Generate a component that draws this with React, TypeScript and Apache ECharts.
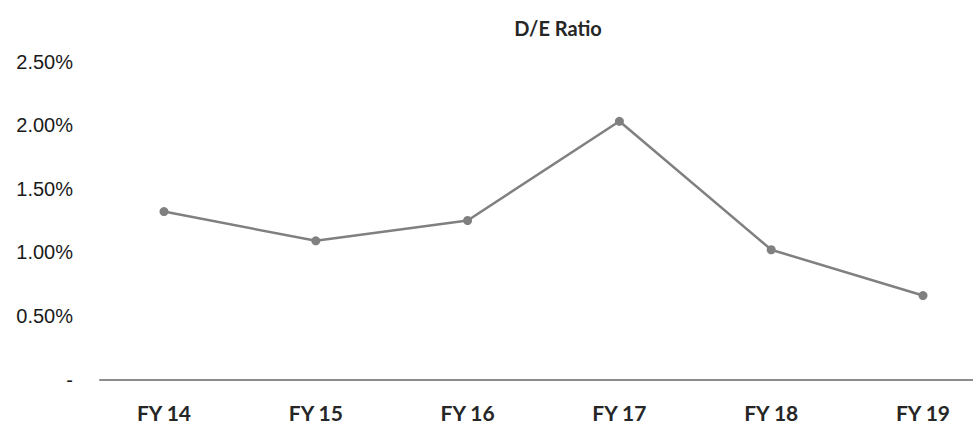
import React, { useEffect, useRef } from "react";
import * as echarts from "echarts";

const title = "D/E Ratio";
const categories = ["FY 14", "FY 15", "FY 16", "FY 17", "FY 18", "FY 19"];
const deRatio = [1.32, 1.09, 1.25, 2.03, 1.02, 0.66];
const yMin = 0;
const yMax = 2.5;
const yStep = 0.5;

const labelFont = "'Liberation Sans', Arial, sans-serif";
const titleFont = "Lato, 'Open Sans', sans-serif";

export default function App() {
  const ref = useRef<HTMLDivElement>(null);
  useEffect(() => {
    if (!ref.current) return;
    const chart = echarts.init(ref.current, undefined, { renderer: "svg" });
    chart.setOption({
      animation: false,
      backgroundColor: "#ffffff",
      title: {
        text: title,
        left: 553,
        top: 13,
        textAlign: "center",
        textStyle: { fontFamily: titleFont, fontWeight: "bold", fontSize: 20, color: "#262626" },
      },
      grid: [
        { left: 100, right: 0, top: 61.5, bottom: 45.5 },
        { left: 164, right: 50, top: 61.5, bottom: 45.5 },
      ],
      xAxis: [
        {
          gridIndex: 0,
          type: "category",
          data: categories,
          axisLine: { show: true, lineStyle: { color: "#8c8c8c", width: 2 } },
          axisTick: { show: false },
          axisLabel: { show: false },
          splitLine: { show: false },
        },
        {
          gridIndex: 1,
          type: "category",
          data: categories,
          boundaryGap: false,
          axisLine: { show: false },
          axisTick: { show: false },
          axisLabel: {
            margin: 22,
            fontFamily: titleFont,
            fontWeight: "bold",
            fontSize: 21,
            color: "#262626",
          },
        },
      ],
      yAxis: [
        {
          gridIndex: 0,
          type: "value",
          min: yMin,
          max: yMax,
          interval: yStep,
          axisLine: { show: false },
          axisTick: { show: false },
          splitLine: { show: false },
          axisLabel: {
            margin: 27,
            fontFamily: labelFont,
            fontSize: 20,
            color: "#1a1a1a",
            formatter: (v: number) => (v === 0 ? "-" : v.toFixed(2) + "%"),
          },
        },
        {
          gridIndex: 1,
          type: "value",
          min: yMin,
          max: yMax,
          interval: yStep,
          show: false,
          splitLine: { show: false },
        },
      ],
      series: [
        {
          type: "line",
          name: title,
          xAxisIndex: 1,
          yAxisIndex: 1,
          data: deRatio,
          symbol: "circle",
          symbolSize: 9,
          itemStyle: { color: "#808080" },
          lineStyle: { color: "#808080", width: 2.5 },
        },
      ],
    });
    return () => chart.dispose();
  }, []);
  return (
    <div
      ref={ref}
      style={{ position: "fixed", left: 0, top: 0, width: 973, height: 425 }}
    />
  );
}
